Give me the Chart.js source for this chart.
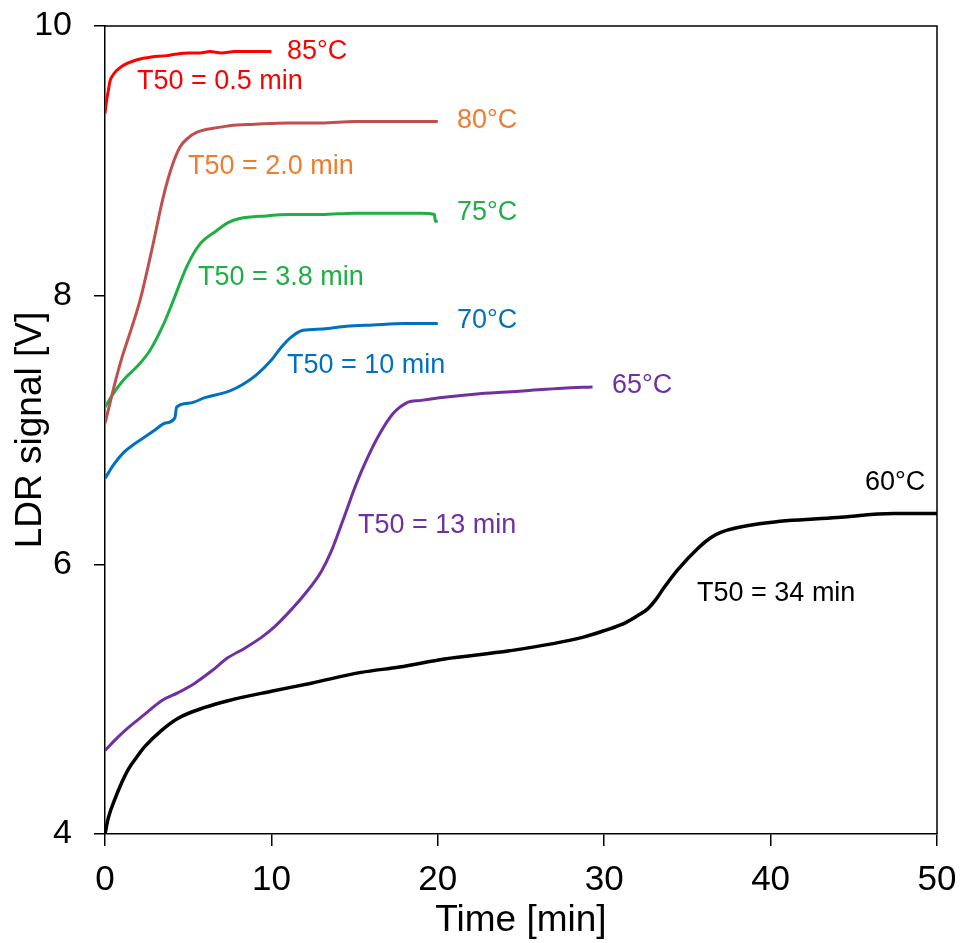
<!DOCTYPE html>
<html><head><meta charset="utf-8">
<script src="https://cdn.jsdelivr.net/npm/chart.js@4"></script>
<style>html,body{margin:0;padding:0;background:#fff}#wrap{width:969px;height:943px}</style>
</head><body><div id="wrap"><canvas id="c" width="969" height="943"></canvas></div>
<script>
// ---- data (time in min, LDR signal in V) ----
const t85 = [0, 0.1, 0.2, 0.3, 0.5, 0.7, 1.0, 1.3, 1.7, 2.3, 2.8, 3.7, 4.2, 5.0, 5.7, 6.3, 7.0, 7.8, 8.5, 9.2, 10.0];
const v85 = [9.35, 9.45, 9.52, 9.59, 9.64, 9.67, 9.70, 9.72, 9.74, 9.76, 9.77, 9.78, 9.79, 9.80, 9.80, 9.81, 9.80, 9.81, 9.81, 9.81, 9.81];

const t80 = [0, 0.3, 0.6, 1.0, 1.5, 2.1, 2.8, 3.5, 4.0, 4.5, 5.0, 5.5, 6.0, 6.5, 7.5, 9, 11, 13, 15, 17, 19, 20];
const v80 = [7.05, 7.20, 7.35, 7.53, 7.72, 7.96, 8.33, 8.73, 8.95, 9.10, 9.17, 9.21, 9.23, 9.24, 9.26, 9.27, 9.28, 9.28, 9.29, 9.29, 9.29, 9.29];

const t75 = [0, 0.5, 1.1, 2.0, 2.7, 3.5, 4.1, 4.9, 5.7, 6.7, 7.4, 8.1, 9.7, 11, 13, 15, 17, 19, 19.8, 19.85, 20];
const v75 = [7.17, 7.27, 7.37, 7.48, 7.59, 7.78, 7.96, 8.21, 8.38, 8.48, 8.54, 8.57, 8.59, 8.60, 8.60, 8.61, 8.61, 8.61, 8.60, 8.55, 8.55];

const t70 = [0, 0.5, 1.1, 1.7, 2.3, 3.0, 3.6, 4.2, 4.25, 4.3, 5.1, 6.0, 7.5, 8.3, 9.1, 10.0, 10.5, 11.1, 11.9, 13.1, 14.5, 16.1, 18, 19.5, 20];
const v70 = [6.64, 6.74, 6.83, 6.89, 6.94, 7.00, 7.05, 7.09, 7.13, 7.17, 7.20, 7.24, 7.29, 7.34, 7.41, 7.52, 7.60, 7.68, 7.74, 7.75, 7.77, 7.78, 7.79, 7.79, 7.79];

const t65 = [0, 0.7, 1.4, 2.4, 3.4, 4.4, 5.4, 6.4, 7.4, 8.4, 9.4, 10.2, 11.0, 12.0, 13.0, 13.6, 14.3, 15.1, 15.8, 16.5, 17.3, 18.1, 19, 20.1, 22.5, 25.1, 27.5, 29.3];
const v65 = [4.62, 4.71, 4.79, 4.89, 4.99, 5.05, 5.12, 5.21, 5.31, 5.38, 5.46, 5.54, 5.64, 5.78, 5.95, 6.10, 6.33, 6.60, 6.80, 6.97, 7.12, 7.20, 7.22, 7.24, 7.27, 7.29, 7.31, 7.32];

const t60 = [0, 0.2, 0.6, 1.0, 1.4, 1.9, 2.4, 3.4, 4.4, 6.0, 7.4, 10.0, 12.4, 15.4, 17.7, 20.4, 24.3, 28.7, 30.0, 31.3, 32.0, 32.6, 33.1, 33.6, 34.4, 35.7, 36.4, 37.0, 39.7, 44.0, 47.4, 50];
const v60 = [4.00, 4.12, 4.26, 4.38, 4.48, 4.57, 4.65, 4.77, 4.86, 4.94, 4.99, 5.06, 5.12, 5.20, 5.24, 5.30, 5.36, 5.46, 5.51, 5.57, 5.62, 5.67, 5.74, 5.83, 5.96, 6.13, 6.20, 6.24, 6.31, 6.35, 6.38, 6.38];

const seriesNames = ['85°C', '80°C', '75°C', '70°C', '65°C', '60°C'];
const xTicks = [0, 10, 20, 30, 40, 50];
const yTicks = [4, 6, 8, 10];

// annotation texts anchored at data coordinates (left edge, vertical middle)
const annotations = [
  { text: '85°C',          x: 10.94, y: 9.807, color: '#FF0000' },
  { text: 'T50 = 0.5 min', x: 1.92,  y: 9.584, color: '#FF0000' },
  { text: '80°C',          x: 21.15, y: 9.30,  color: '#ED7D31' },
  { text: 'T50 = 2.0 min', x: 4.99,  y: 8.959, color: '#ED7D31' },
  { text: '75°C',          x: 21.15, y: 8.617, color: '#1FAF45' },
  { text: 'T50 = 3.8 min', x: 5.59,  y: 8.134, color: '#1FAF45' },
  { text: '70°C',          x: 21.15, y: 7.814, color: '#0070C0' },
  { text: 'T50 = 10 min',  x: 10.94, y: 7.480, color: '#0070C0' },
  { text: '65°C',          x: 30.47, y: 7.331, color: '#7030A0' },
  { text: 'T50 = 13 min',  x: 15.20, y: 6.290, color: '#7030A0' },
  { text: '60°C',          x: 45.67, y: 6.610, color: '#000000' },
  { text: 'T50 = 34 min',  x: 35.58, y: 5.784, color: '#000000' }
];

const FONT = '"Liberation Sans", Arial, Helvetica, sans-serif';
const lineColors = ['#FF0000', '#C0504D', '#1FAF45', '#0070C0', '#7030A0', '#000000'];
const lineWidths = [3, 3, 3, 3, 3, 3.5];
const allT = [t85, t80, t75, t70, t65, t60];
const allV = [v85, v80, v75, v70, v65, v60];

const datasets = allT.map((ts, i) => ({
  label: seriesNames[i],
  data: ts.map((t, j) => ({ x: t, y: allV[i][j] })),
  showLine: true,
  borderColor: lineColors[i],
  backgroundColor: lineColors[i],
  borderWidth: lineWidths[i],
  pointRadius: 0,
  cubicInterpolationMode: 'monotone',
  fill: false
}));

const framePlugin = {
  id: 'frame',
  afterDatasetsDraw(chart) {
    const a = chart.chartArea, c = chart.ctx;
    c.save();
    c.strokeStyle = '#000';
    c.lineWidth = 1.5;
    c.beginPath();
    c.moveTo(a.left, a.top); c.lineTo(a.right, a.top); c.lineTo(a.right, a.bottom);
    c.stroke();
    c.restore();
  }
};

const labelPlugin = {
  id: 'labels',
  afterDatasetsDraw(chart) {
    const c = chart.ctx, xs = chart.scales.x, ys = chart.scales.y;
    c.save();
    c.font = '27px ' + FONT;
    c.textAlign = 'left';
    c.textBaseline = 'middle';
    annotations.forEach(a => {
      c.fillStyle = a.color;
      c.fillText(a.text, xs.getPixelForValue(a.x), ys.getPixelForValue(a.y));
    });
    c.restore();
  }
};

function zeroPad(s) { s.paddingTop = 0; s.paddingBottom = 0; s.paddingLeft = 0; s.paddingRight = 0; }

new Chart(document.getElementById('c'), {
  type: 'scatter',
  data: { datasets },
  options: {
    responsive: false,
    animation: false,
    layout: { padding: { left: 0, right: 32, top: 26, bottom: 0 } },
    plugins: { legend: { display: false }, tooltip: { enabled: false } },
    scales: {
      x: {
        type: 'linear', min: 0, max: 50,
        afterBuildTicks: s => { s.ticks = xTicks.map(v => ({ value: v })); },
        ticks: { color: '#000', font: { family: FONT, size: 35 }, padding: 13, maxRotation: 0 },
        grid: { drawOnChartArea: false, tickLength: 12, color: '#000', lineWidth: 1.5 },
        border: { color: '#000', width: 1.5 },
        title: { display: true, text: 'Time [min]', color: '#000', font: { family: FONT, size: 37 }, padding: { top: 0, bottom: 0 } },
        afterFit: s => { s.height = 943 - 834; zeroPad(s); }
      },
      y: {
        type: 'linear', min: 4, max: 10,
        afterBuildTicks: s => { s.ticks = yTicks.map(v => ({ value: v })); },
        ticks: { color: '#000', font: { family: FONT, size: 34 }, padding: 22 },
        grid: { drawOnChartArea: false, tickLength: 11, color: '#000', lineWidth: 1.5 },
        border: { color: '#000', width: 1.5 },
        title: { display: true, text: 'LDR signal [V]', color: '#000', font: { family: FONT, size: 37 }, padding: { top: 9, bottom: 0 } },
        afterFit: s => { s.width = 105; zeroPad(s); }
      }
    }
  },
  plugins: [framePlugin, labelPlugin]
});
</script>
</body></html>
